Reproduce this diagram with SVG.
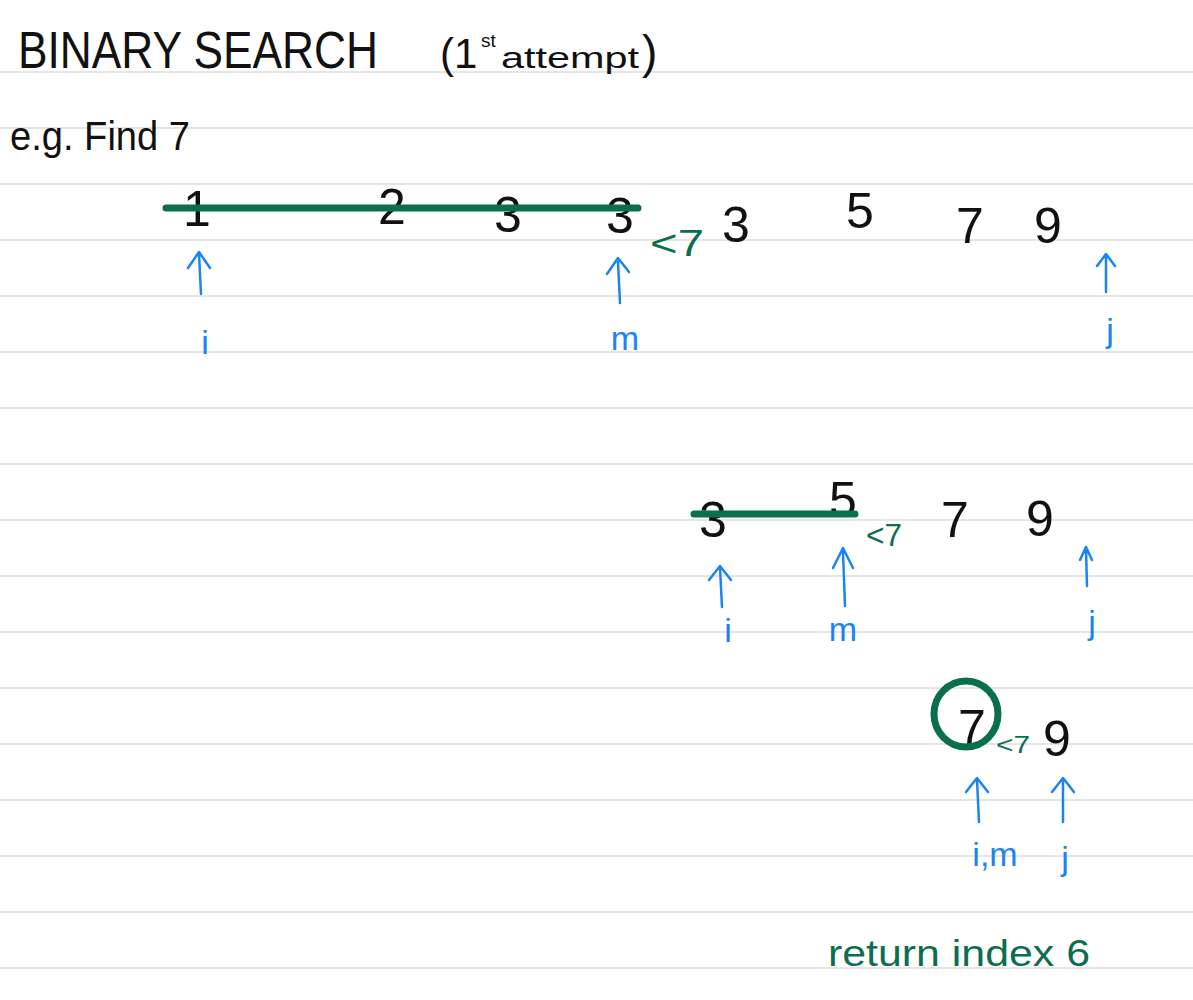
<svg xmlns="http://www.w3.org/2000/svg" width="1193" height="1000" viewBox="0 0 1193 1000">
<style>
.rule{stroke:#dcdcdc;stroke-width:1.5}
.ink{font-family:"Liberation Sans","DejaVu Sans",sans-serif;fill:#111}
.num{font-family:"Liberation Sans","DejaVu Sans",sans-serif;fill:#111;font-size:50px;text-anchor:middle;font-weight:300}
.grn{font-family:"Liberation Sans","DejaVu Sans",sans-serif;fill:#0b6e4f}
.blu{font-family:"Liberation Sans","DejaVu Sans",sans-serif;fill:#1a84f5;font-size:34px;text-anchor:middle}
.bar{stroke:#0b6e4f;stroke-width:7;stroke-linecap:round;fill:none}
.arr{stroke:#1a84f5;stroke-width:2.5;stroke-linecap:round;stroke-linejoin:round;fill:none}
</style>
<rect width="1193" height="1000" fill="#ffffff"/>
<g id="rules">
<line class="rule" x1="0" y1="72" x2="1193" y2="72"/>
<line class="rule" x1="0" y1="128" x2="1193" y2="128"/>
<line class="rule" x1="0" y1="184" x2="1193" y2="184"/>
<line class="rule" x1="0" y1="240" x2="1193" y2="240"/>
<line class="rule" x1="0" y1="296" x2="1193" y2="296"/>
<line class="rule" x1="0" y1="352" x2="1193" y2="352"/>
<line class="rule" x1="0" y1="408" x2="1193" y2="408"/>
<line class="rule" x1="0" y1="464" x2="1193" y2="464"/>
<line class="rule" x1="0" y1="520" x2="1193" y2="520"/>
<line class="rule" x1="0" y1="576" x2="1193" y2="576"/>
<line class="rule" x1="0" y1="632" x2="1193" y2="632"/>
<line class="rule" x1="0" y1="688" x2="1193" y2="688"/>
<line class="rule" x1="0" y1="744" x2="1193" y2="744"/>
<line class="rule" x1="0" y1="800" x2="1193" y2="800"/>
<line class="rule" x1="0" y1="856" x2="1193" y2="856"/>
<line class="rule" x1="0" y1="912" x2="1193" y2="912"/>
<line class="rule" x1="0" y1="968" x2="1193" y2="968"/>
</g>
<g id="title">
<text class="ink" x="18" y="68" font-size="52" textLength="360" lengthAdjust="spacingAndGlyphs" font-weight="300">BINARY SEARCH</text>
<text class="ink" y="68" font-weight="300"><tspan x="440" font-size="42">(1</tspan><tspan x="481" y="47" font-size="19">st</tspan><tspan x="501" y="68" font-size="30" textLength="138" lengthAdjust="spacingAndGlyphs">attempt</tspan><tspan x="642" font-size="46">)</tspan></text>
<text class="ink" x="10" y="150" font-size="40" textLength="180" lengthAdjust="spacingAndGlyphs" font-weight="300">e.g. Find 7</text>
</g>
<g id="row1">
<text class="num" x="197" y="226">1</text>
<text class="num" x="392" y="224">2</text>
<text class="num" x="508" y="232">3</text>
<text class="num" x="620" y="233">3</text>
<text class="num" x="736" y="242" font-size="56">3</text>
<text class="num" x="860" y="228">5</text>
<text class="num" x="970" y="243">7</text>
<text class="num" x="1048" y="243">9</text>
<line class="bar" x1="166" y1="208" x2="638" y2="208"/>
<text class="grn" x="650" y="256" font-size="36" textLength="54" lengthAdjust="spacingAndGlyphs">&lt;7</text>
</g>
<g id="row2">
<text class="num" x="713" y="537">3</text>
<text class="num" x="843" y="517">5</text>
<text class="num" x="955" y="537">7</text>
<text class="num" x="1040" y="536">9</text>
<line class="bar" x1="694" y1="514" x2="855" y2="514"/>
<text class="grn" x="866" y="546" font-size="32" textLength="36" lengthAdjust="spacingAndGlyphs">&lt;7</text>
</g>
<g id="row3">
<text class="num" x="972" y="745">7</text>
<text class="num" x="1057" y="756">9</text>
<ellipse cx="966" cy="714" rx="32" ry="33" fill="none" stroke="#0b6e4f" stroke-width="7"/>
<text class="grn" x="996" y="753" font-size="24" textLength="34" lengthAdjust="spacingAndGlyphs">&lt;7</text>
</g>
<g id="pointers">
<path class="arr" d="M201,294 L199,254 M188,268 L199,252 L210,268"/>
<text class="blu" x="205" y="354">i</text>
<path class="arr" d="M620,303 L618,262 M607,274 L618,258 L629,272"/>
<text class="blu" x="625" y="350">m</text>
<path class="arr" d="M1106,292 L1106,256 M1097,266 L1106,254 L1115,266"/>
<text class="blu" x="1110" y="342" font-size="36">j</text>
<path class="arr" d="M722,607 L720,568 M709,580 L720,566 L731,580"/>
<text class="blu" x="728" y="642">i</text>
<path class="arr" d="M845,606 L843,552 M833,568 L843,548 L853,568"/>
<text class="blu" x="843" y="641">m</text>
<path class="arr" d="M1087,586 L1086,550 M1080,560 L1086,547 L1092,560"/>
<text class="blu" x="1092" y="634" font-size="36">j</text>
<path class="arr" d="M979,822 L977,780 M966,792 L977,778 L988,792"/>
<text class="blu" x="995" y="866">i,m</text>
<path class="arr" d="M1063,822 L1063,780 M1052,792 L1063,778 L1074,792"/>
<text class="blu" x="1065" y="870" font-size="36">j</text>
</g>
<g id="result">
<text class="grn" x="828" y="966" font-size="36" textLength="262" lengthAdjust="spacingAndGlyphs">return index 6</text>
</g>
</svg>
